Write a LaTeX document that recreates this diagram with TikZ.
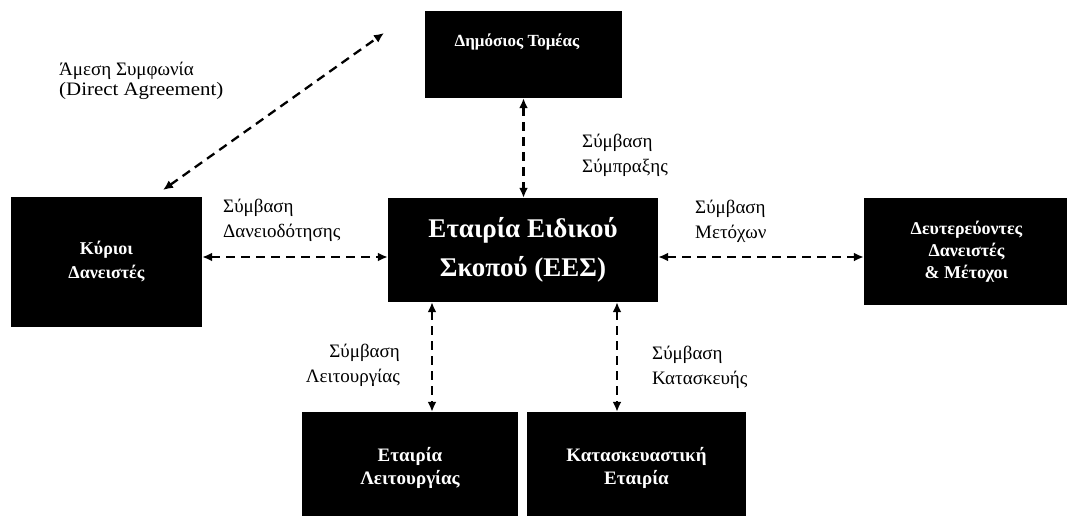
\documentclass[tikz,border=0pt]{standalone}
\usepackage{fontspec}
\setmainfont{Liberation Serif}
\usetikzlibrary{arrows.meta,calc}
\tikzset{
  box/.style={fill=black, draw=none, text=white, inner sep=0pt, align=center, font=\bfseries\fontsize{18}{24}\selectfont},
  lbl/.style={inner sep=0pt, align=left, font=\fontsize{19}{25}\selectfont},
  conn/.style={line width=2.3pt, dash pattern=on 9pt off 6pt, {Latex[length=10pt,width=9pt]}-{Latex[length=10pt,width=9pt]}}
}
\begin{document}
\begin{tikzpicture}[x=1pt,y=-1pt]
\useasboundingbox (0,0) rectangle (1067,515);
% boxes
\node[box, minimum width=197pt, minimum height=87pt] (dt) at (523.5,54.5) {};
\node[box, anchor=center, font=\bfseries\fontsize{17}{22}\selectfont] (dtt) at (517,42) {Δημόσιος Τομέας};
\node[box, minimum width=191pt, minimum height=130pt] (kd) at (106.5,262) {Κύριοι\\Δανειστές};
\node[box, minimum width=270pt, minimum height=104pt, font=\bfseries\fontsize{27}{39}\selectfont] (ees) at (523,250) {Εταιρία Ειδικού\\Σκοπού (ΕΕΣ)};
\node[box, minimum width=205pt, minimum height=107pt, font=\bfseries\fontsize{18}{22}\selectfont] (dm) at (966.5,251.5) {Δευτερεύοντες\\Δανειστές\\\& Μέτοχοι};
\node[box, minimum width=216pt, minimum height=112pt, font=\bfseries\fontsize{19}{23}\selectfont] (el) at (410,468) {Εταιρία\\Λειτουργίας};
\node[box, minimum width=219pt, minimum height=112pt, font=\bfseries\fontsize{19}{23}\selectfont] (ke) at (636.5,468) {Κατασκευαστική\\Εταιρία};
% connectors
\coordinate (dA) at (163,190);
\coordinate (dB) at (384,33);
\draw[conn] (dA) -- (dB);
\draw[conn] (dt.south) -- (dt.south |- ees.north);
\draw[conn] ([yshift=5pt]kd.east) -- ([yshift=5pt]kd.east -| ees.west);
\draw[conn] ([yshift=-7pt]ees.east) -- ([yshift=-7pt]ees.east -| dm.west);
\draw[conn] ([xshift=-91pt]ees.south) -- ([xshift=-91pt]ees.south |- el.north);
\draw[conn] ([xshift=94pt]ees.south) -- ([xshift=94pt]ees.south |- ke.north);
% labels
\node[lbl, anchor=west, font=\fontsize{19}{20}\selectfont] (l1) at (59,81) {Άμεση Συμφωνία\\\scalebox{1.1}[1]{(Direct Agreement)}};
\node[lbl, anchor=west] (l2) at (582,155.5) {Σύμβαση\\Σύμπραξης};
\node[lbl, anchor=west] (l3) at (223,220.5) {Σύμβαση\\Δανειοδότησης};
\node[lbl, anchor=west] (l4) at (695,221.5) {Σύμβαση\\Μετόχων};
\node[lbl, anchor=east, align=right] (l5) at (400,365.5) {Σύμβαση\\Λειτουργίας};
\node[lbl, anchor=west] (l6) at (652,367.5) {Σύμβαση\\Κατασκευής};
\end{tikzpicture}
\end{document}
